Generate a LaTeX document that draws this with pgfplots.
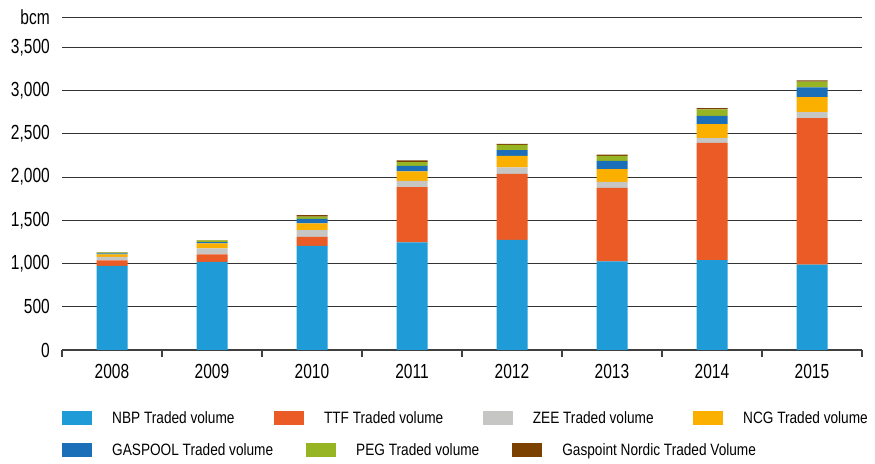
\documentclass[border=0pt]{standalone}
\usepackage{pgfplots}
\pgfplotsset{compat=1.18}
\usepackage{pgfplotstable}
\usepackage{fontspec}
\setmainfont{Liberation Sans}[FakeStretch=0.83]
\newfontfamily\tickfont{Liberation Sans}[FakeStretch=0.76]
\definecolor{cNBP}{HTML}{1F9BD7}
\definecolor{cTTF}{HTML}{EB5B25}
\definecolor{cZEE}{HTML}{C6C6C5}
\definecolor{cNCG}{HTML}{FBB000}
\definecolor{cGAS}{HTML}{1B6FB8}
\definecolor{cPEG}{HTML}{97B523}
\definecolor{cNOR}{HTML}{7B4100}
\pgfplotstableread{
x NBP TTF ZEE NCG GAS PEG NOR
0 974 62 42 27 12 13 3
1 1020 85 69 58 16 18 3
2 1205 104 77 77 54 26 16
3 1244 639 73 108 65 43 19
4 1274 763 73 134 66 62 11
5 1024 851 70 146 96 57 16
6 1040 1355 54 162 96 74 15
7 986 1694 69 174 112 69 12
}\data
\begin{document}
\begin{tikzpicture}
\pgfplotsset{
  legboxes/.style={
    legend image code/.code={\fill[##1] (0bp,-7bp) rectangle (30bp,7bp);},
    legend cell align=left,
    legend style={draw=none, fill=none, inner sep=0pt, anchor=west,
      font=\fontsize{16.5}{19}\selectfont,
      nodes={inner sep=0pt},
      /tikz/every odd column/.append style={column sep=20bp}},
  }
}
\begin{axis}[
  at={(62bp,114bp)}, anchor=south west,
  scale only axis, width=800bp, height=333bp,
  xmin=-0.5, xmax=7.5, ymin=0, ymax=3850,
  ybar stacked, bar width=31bp,
  axis x line*=bottom, axis y line*=left,
  y axis line style={draw=none},
  x axis line style={draw=black!75, line width=1.1bp},
  xtick={0,...,7},
  xticklabels={2008,2009,2010,2011,2012,2013,2014,2015},
  minor xtick={-0.5,0.5,...,7.5},
  tick align=outside,
  major tick length=0pt, minor tick length=7bp,
  minor x tick style={draw=black!75, line width=1.1bp},
  y tick style={draw=none},
  ytick={0,500,1000,1500,2000,2500,3000,3500,3850},
  yticklabels={0,500,{1,000},{1,500},{2,000},{2,500},{3,000},{3,500},bcm},
  ymajorgrids, grid style={draw=black!80, line width=0.9bp},
  /pgf/number format/assume math mode=true,
  tick label style={font=\tickfont\fontsize{20.5}{23}\selectfont},
  yticklabel style={inner sep=0pt, anchor=east, xshift=-12bp},
  xticklabel style={inner sep=0pt, anchor=north, yshift=-14.5bp},
  legboxes, legend columns=4,
  legend style={at={(axis description cs:0,-0.2042)},
    /tikz/every even column/.append style={column sep=39.5bp}},
]
\addplot[fill=cNBP, draw=none] table[x=x,y=NBP]{\data};
\addlegendentry{NBP Traded volume}
\addplot[fill=cTTF, draw=none] table[x=x,y=TTF]{\data};
\addlegendentry{TTF Traded volume}
\addplot[fill=cZEE, draw=none] table[x=x,y=ZEE]{\data};
\addlegendentry{ZEE Traded volume}
\addplot[fill=cNCG, draw=none] table[x=x,y=NCG]{\data};
\addlegendentry{NCG Traded volume}
\addplot[fill=cGAS, draw=none] table[x=x,y=GAS]{\data};
\addplot[fill=cPEG, draw=none] table[x=x,y=PEG]{\data};
\addplot[fill=cNOR, draw=none] table[x=x,y=NOR]{\data};
\end{axis}
\begin{axis}[
  at={(62bp,114bp)}, anchor=south west,
  scale only axis, width=800bp, height=333bp,
  xmin=-0.5, xmax=7.5, ymin=0, ymax=3850,
  hide axis,
  legboxes, legend columns=3,
  legend style={at={(axis description cs:0,-0.3003)},
    /tikz/every even column/.append style={column sep=33bp}},
]
\addlegendimage{fill=cGAS, draw=none}
\addlegendentry{GASPOOL Traded volume}
\addlegendimage{fill=cPEG, draw=none}
\addlegendentry{PEG Traded volume}
\addlegendimage{fill=cNOR, draw=none}
\addlegendentry{Gaspoint Nordic Traded Volume}
\end{axis}
\pgfresetboundingbox
\path[use as bounding box] (0,0) rectangle (875bp,464bp);
\end{tikzpicture}
\end{document}
